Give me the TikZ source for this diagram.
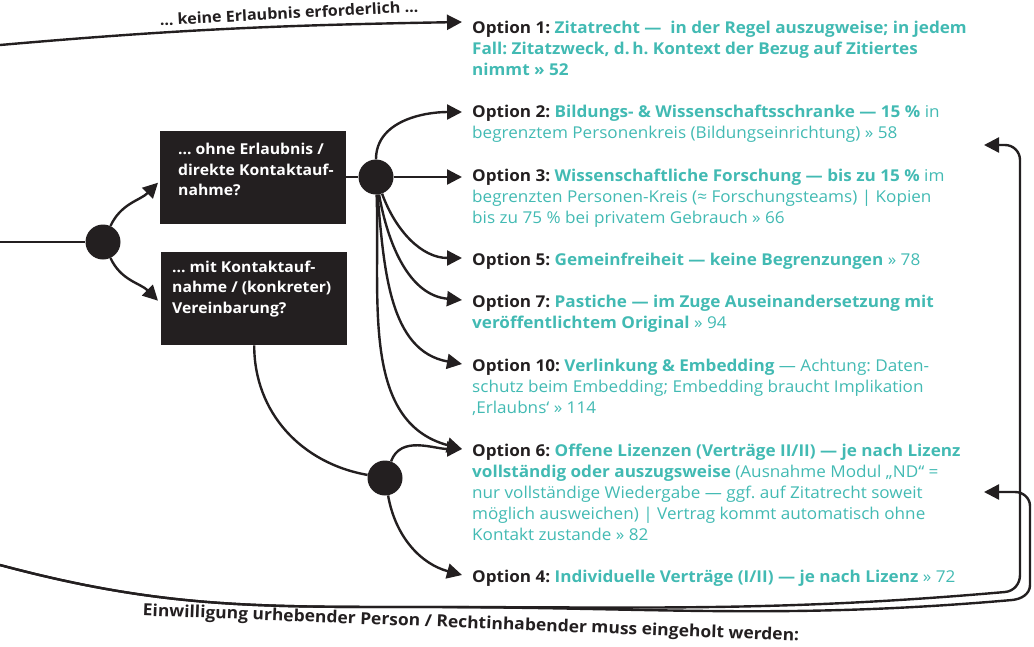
\documentclass[tikz,border=0pt]{standalone}
\usepackage{fontspec}
\usepackage{graphicx}
\setmainfont[FakeStretch=1.05]{Open Sans}
\usetikzlibrary{arrows.meta,positioning,calc}
\definecolor{lawink}{HTML}{231F20}
\definecolor{lawteal}{HTML}{42BAB3}
\newcommand{\optlabel}[1]{{\color{lawink}\bfseries #1}}
\newcommand{\qtext}[3]{\parbox[c][93pt][t]{186pt}{\raggedright\leftskip=#1\relax\vspace*{#2}#3\par}}
\frenchspacing

\begin{document}
\begin{tikzpicture}[x=1pt,y=1pt,
  line/.style={draw=lawink,line width=2.4pt},
  link/.style={line,-{Triangle[length=15pt,width=15pt]}},
  hub/.style={circle,fill=lawink,minimum size=35pt,inner sep=0pt},
  qbox/.style={fill=lawink,text=white,anchor=north west,inner sep=0pt,font=\fontsize{15}{20.5}\selectfont\bfseries},
  opt/.style={anchor=north west,inner sep=0pt,align=left,text=lawteal,font=\fontsize{16.3}{21}\selectfont}]
  \useasboundingbox (0,0) rectangle (1034,-646);

  % question boxes and hubs
  \node[qbox] (box1) at (160,-131) {\qtext{18pt}{12pt}{... ohne Erlaubnis /\\direkte Kontaktauf-\\nahme?}};
  \node[qbox] (box2) at (161,-252) {\qtext{11pt}{8.5pt}{... mit Kontaktauf-\\nahme / (konkreter)\\Vereinbarung?}};
  \node[hub] (hub1) at (103,-242) {};
  \node[hub] (hub2) at (376,-177) {};
  \node[hub] (hub3) at (385,-478) {};

  % options
  \node[opt,font=\fontsize{16.3}{21}\selectfont\bfseries] (opt1) at (472,-21)
    {\optlabel{Option 1:} Zitatrecht —\ \ in der Regel auszugweise; in jedem\\Fall: Zitatzweck, d.\,h. Kontext der Bezug auf Zitiertes\\nimmt » 52};
  \node[opt] (opt2) at (472,-105)
    {\optlabel{Option 2:} \textbf{Bildungs- \& Wissenschaftsschranke — 15 \%} in\\begrenztem Personenkreis (Bildungseinrichtung) » 58};
  \node[opt] (opt3) at (472,-169)
    {\optlabel{Option 3:} \textbf{Wissenschaftliche Forschung — bis zu 15 \%} im\\begrenzten Personen-Kreis (≈ Forschungsteams) | Kopien\\bis zu 75 \% bei privatem Gebrauch » 66};
  \node[opt] (opt5) at (472,-253)
    {\optlabel{Option 5:} \textbf{Gemeinfreiheit — keine Begrenzungen} » 78};
  \node[opt] (opt7) at (472,-295)
    {\optlabel{Option 7:} \textbf{Pastiche — im Zuge Auseinandersetzung mit}\\\textbf{veröffentlichtem Original} » 94};
  \node[opt] (opt10) at (472,-359)
    {\optlabel{Option 10:} \textbf{Verlinkung \& Embedding} — Achtung: Daten-\\schutz beim Embedding; Embedding braucht Implikation\\‚Erlaubns‘ » 114};
  \node[opt] (opt6) at (472,-444)
    {\optlabel{Option 6:} \textbf{Offene Lizenzen (Verträge II/II) — je nach Lizenz}\\\textbf{vollständig oder auszugsweise} (Ausnahme Modul „ND“ =\\nur vollständige Wiedergabe — ggf. auf Zitatrecht soweit\\möglich ausweichen) | Vertrag kommt automatisch ohne\\Kontakt zustande » 82};
  \node[opt] (opt4) at (472,-570)
    {\optlabel{Option 4:} \textbf{Individuelle Verträge (I/II) — je nach Lizenz} » 72};

  % free ends
  \coordinate (topin) at (0,-45);
  \coordinate (midin) at (0,-242);
  \coordinate (lowin) at (0,-565);
  \coordinate (back2) at (984,-145);
  \coordinate (back6) at (984,-492);

  % connectors
  \draw[link] (topin) to[out=5,in=181] ([shift={(-10,-1)}]opt1.north west);
  \draw[line] (midin) -- (hub1);
  \draw[link] (hub1) to[out=65,in=-135] ([shift={(-2,-5)}]box1.west);
  \draw[link] (hub1) to[out=-65,in=135] ([shift={(-3,-2)}]box2.west);
  \draw[line] (box1.east |- hub2) -- (hub2);
  \draw[link] (hub2) to[out=90,in=180] ([shift={(-10,-7)}]opt2.north west);
  \draw[link] (hub2) -- ([shift={(-10,-8)}]opt3.north west);
  \foreach \o/\a/\b in {opt5/-70/180, opt7/-80/175, opt10/-85/170, opt6/-88/165}{
    \draw[link] (hub2) to[out=\a,in=\b] ([shift={(-10,-5)}]\o.north west);
  }
  \draw[line] (box2.south) to[out=-90,in=170] (hub3);
  \draw[link] (hub3) to[out=70,in=180] ([shift={(-10,-5)}]opt6.north west);
  \draw[link] (hub3) to[out=-80,in=165] ([shift={(-10,-5)}]opt4.north west);
  \draw[link] (lowin) to[out=-15,in=180] (420,-607) to[out=0,in=185] (1005,-592)
    to[out=5,in=-90] (1020,-575) -- (1020,-160) to[out=90,in=0] (1005,-145) -- (back2);
  \draw[link] (lowin) to[out=-15,in=180] (420,-607) to[out=0,in=185] (1012,-600)
    to[out=5,in=-90] (1030,-585) -- (1030,-506) to[out=90,in=0] (1015,-492) -- (back6);

  % path labels
  \node[rotate=3,text=lawink,font=\fontsize{15.3}{18}\selectfont\bfseries] (free) at (289,-13)
    {... keine Erlaubnis erforderlich ...};
  \node[rotate=-2.2,text=lawink,font=\fontsize{16.6}{20}\selectfont\bfseries] (consent) at (471,-624)
    {Einwilligung urhebender Person / Rechtinhabender muss eingeholt werden:};
\end{tikzpicture}
\end{document}
